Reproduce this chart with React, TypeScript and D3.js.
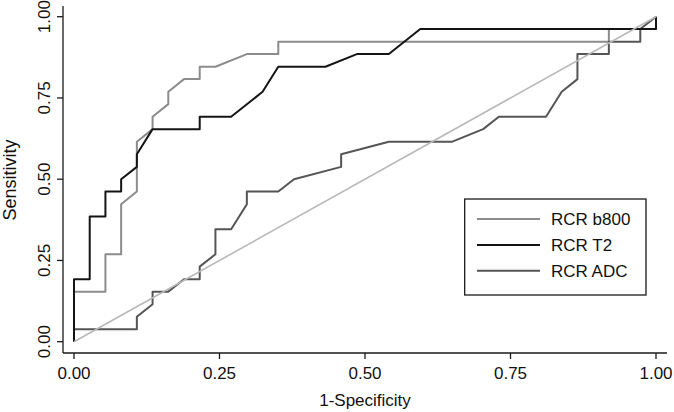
import React from "react";
import * as d3 from "d3";

// ROC curves: false positive rate (1-Specificity) and sensitivity
const b800Fpr = [0, 0, 0.054, 0.054, 0.081, 0.081, 0.108, 0.108, 0.135, 0.135, 0.162, 0.162, 0.189, 0.216, 0.216, 0.243, 0.297, 0.351, 0.351, 0.919, 0.919, 1, 1];
const b800Tpr = [0, 0.154, 0.154, 0.269, 0.269, 0.423, 0.462, 0.615, 0.654, 0.692, 0.731, 0.769, 0.808, 0.808, 0.846, 0.846, 0.885, 0.885, 0.923, 0.923, 0.962, 0.962, 1];

const t2Fpr = [0, 0, 0.027, 0.027, 0.054, 0.054, 0.081, 0.081, 0.108, 0.108, 0.135, 0.216, 0.216, 0.27, 0.324, 0.351, 0.432, 0.486, 0.541, 0.595, 1, 1];
const t2Tpr = [0, 0.192, 0.192, 0.385, 0.385, 0.462, 0.462, 0.5, 0.538, 0.577, 0.654, 0.654, 0.692, 0.692, 0.769, 0.846, 0.846, 0.885, 0.885, 0.962, 0.962, 1];

const adcFpr = [0, 0, 0.108, 0.108, 0.135, 0.135, 0.162, 0.189, 0.216, 0.216, 0.243, 0.243, 0.27, 0.297, 0.297, 0.351, 0.378, 0.459, 0.459, 0.541, 0.649, 0.703, 0.73, 0.811, 0.838, 0.865, 0.865, 0.919, 0.919, 0.973, 0.973, 1];
const adcTpr = [0, 0.038, 0.038, 0.077, 0.115, 0.154, 0.154, 0.192, 0.192, 0.231, 0.269, 0.346, 0.346, 0.423, 0.462, 0.462, 0.5, 0.538, 0.577, 0.615, 0.615, 0.654, 0.692, 0.692, 0.769, 0.808, 0.885, 0.885, 0.923, 0.923, 0.962, 1];

const refFpr = [0, 1];
const refTpr = [0, 1];

const xTicks = [0, 0.25, 0.5, 0.75, 1];
const yTicks = [0, 0.25, 0.5, 0.75, 1];
const seriesNames = ["RCR b800", "RCR T2", "RCR ADC"];
const seriesColors = ["#8c8c8c", "#141414", "#555555"];

const W = 674;
const H = 412;
const FONT = "'Liberation Sans', Arial, Helvetica, sans-serif";

export default function App() {
  const x = d3.scaleLinear().domain([0, 1]).range([74, 656]);
  const y = d3.scaleLinear().domain([0, 1]).range([341.7, 16.7]);
  const line = d3
    .line<[number, number]>()
    .x((d) => x(d[0]))
    .y((d) => y(d[1]));
  const zip = (a: number[], b: number[]) => a.map((v, i) => [v, b[i]] as [number, number]);

  const series = [
    { xs: b800Fpr, ys: b800Tpr, color: seriesColors[0] },
    { xs: adcFpr, ys: adcTpr, color: seriesColors[2] },
    { xs: t2Fpr, ys: t2Tpr, color: seriesColors[1] },
  ];

  const axisColor = "#1a1a1a";
  const left = 63;
  const bottom = 353;
  const top = 6;
  const right = 667;

  const legX = 464.7;
  const legY = 199;
  const legW = 181.3;
  const legH = 96;
  const legRows = [219, 245, 270.7];

  return (
    <svg
      width={W}
      height={H}
      style={{ position: "fixed", left: 0, top: 0, background: "#fff" }}
      fontFamily={FONT}
    >
      <rect x={0} y={0} width={W} height={H} fill="#fff" />
      {series.map((s, i) => (
        <path
          key={i}
          d={line(zip(s.xs, s.ys)) || ""}
          fill="none"
          stroke={s.color}
          strokeWidth={2}
          strokeLinejoin="round"
        />
      ))}
      <path d={line(zip(refFpr, refTpr)) || ""} fill="none" stroke="#b8b8b8" strokeWidth={1.6} />

      {/* axes */}
      <line x1={left} y1={top} x2={left} y2={bottom} stroke={axisColor} strokeWidth={1.3} />
      <line x1={left} y1={bottom} x2={right} y2={bottom} stroke={axisColor} strokeWidth={1.3} />
      {xTicks.map((t) => (
        <g key={"x" + t}>
          <line x1={x(t)} x2={x(t)} y1={bottom} y2={bottom + 6} stroke={axisColor} strokeWidth={1.3} />
          <text x={x(t)} y={379} textAnchor="middle" fontSize={17} fill="#111">
            {d3.format(".2f")(t)}
          </text>
        </g>
      ))}
      {yTicks.map((t) => (
        <g key={"y" + t}>
          <line x1={left - 6} x2={left} y1={y(t)} y2={y(t)} stroke={axisColor} strokeWidth={1.3} />
          <text
            transform={`translate(49.5,${y(t)}) rotate(-90)`}
            textAnchor="middle"
            fontSize={17}
            fill="#111"
          >
            {d3.format(".2f")(t)}
          </text>
        </g>
      ))}
      <text x={365} y={406} textAnchor="middle" fontSize={17} fill="#111">
        1-Specificity
      </text>
      <text transform={`translate(16,180) rotate(-90)`} textAnchor="middle" fontSize={18} fill="#111">
        Sensitivity
      </text>

      {/* legend */}
      <rect x={legX} y={legY} width={legW} height={legH} fill="#fff" stroke={axisColor} strokeWidth={1.3} />
      {seriesNames.map((n, i) => (
        <g key={n}>
          <line x1={477} x2={540} y1={legRows[i]} y2={legRows[i]} stroke={seriesColors[i]} strokeWidth={2} />
          <text x={551} y={legRows[i] + 6.3} fontSize={17} fill="#111">
            {n}
          </text>
        </g>
      ))}
    </svg>
  );
}
